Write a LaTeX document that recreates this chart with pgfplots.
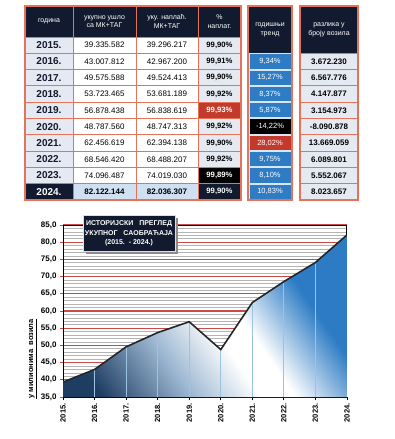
\documentclass[border=0pt]{standalone}
\usepackage{pgfplots}
\pgfplotsset{compat=1.18}
\usepackage{fontspec}
\setmainfont{Liberation Sans}
\definecolor{hdr}{HTML}{111A2E}
\definecolor{bord}{HTML}{E4735A}
\definecolor{lightcell}{HTML}{E5E9F2}
\definecolor{bluecell}{HTML}{2E7CC4}
\definecolor{redcell}{HTML}{C33A2C}
\definecolor{lastrow}{HTML}{CFE0F3}
\definecolor{trendbg}{HTML}{D8E6F4}
\definecolor{gridred}{HTML}{C84A4A}
\definecolor{gridgray}{HTML}{B4B4B4}
\definecolor{areadark}{HTML}{1E3D63}
\definecolor{areamid}{HTML}{9DB8D2}
\definecolor{areablue}{HTML}{2C7BC4}
\definecolor{combcol}{HTML}{9CC3E0}
\pgfdeclarehorizontalshading{areashade}{100bp}{color(0bp)=(areadark); color(22bp)=(areadark); color(38bp)=(areamid); color(50bp)=(white); color(56bp)=(white); color(70bp)=(areablue); color(100bp)=(areablue)}
\newcommand\hfont{\fontsize{7}{8.5}\selectfont}
\newcommand\yfont{\bfseries\fontsize{10}{10}\selectfont}
\newcommand\vfont{\fontsize{8}{8}\selectfont}
\newcommand\pfont{\bfseries\fontsize{7.7}{8}\selectfont}
\newcommand\tfont{\fontsize{7.5}{8}\selectfont}
\newcommand\rfont{\bfseries\fontsize{8}{8}\selectfont}
% #1 top #2 bottom #3 year #4 a #5 b #6 pct #7 pct fill #8 pct text colour
\newcommand\trow[8]{%
  \fill[lightcell] (25,#1) rectangle (73,#2);
  \fill[white] (73,#1) rectangle (198,#2);
  \fill[#7] (198,#1) rectangle (241,#2);
  \node[font=\yfont, text=hdr] at (49,{(#1+#2)/2}) {#3};
  \node[font=\vfont] at (104.5,{(#1+#2)/2}) {#4};
  \node[font=\vfont] at (167,{(#1+#2)/2}) {#5};
  \node[font=\pfont, text=#8] at (219.5,{(#1+#2)/2}) {#6};
}
% #1 top #2 bottom #3 text #4 fill
\newcommand\trend[4]{%
  \fill[#4] (249.5,{#1+1}) rectangle (290.5,{#2-1});
  \node[font=\tfont, text=white] at (270,{(#1+#2)/2}) {#3};
}
\newcommand\raz[3]{%
  \fill[lightcell] (300,#1) rectangle (358,#2);
  \node[font=\rfont] at (329,{(#1+#2)/2}) {#3};
}
\begin{document}
\begin{tikzpicture}
\useasboundingbox (0,0) rectangle (394pt,439pt);
\begin{axis}[
  at={(63pt,42pt)}, anchor=south west, scale only axis,
  width=284pt, height=172pt,
  xmin=2015, xmax=2024, ymin=35, ymax=85,
  xtick={2015,...,2024},
  xticklabels={2015.,2016.,2017.,2018.,2019.,2020.,2021.,2022.,2023.,2024.},
  ytick={35,40,...,85}, minor y tick num=4,
  ymajorgrids, yminorgrids,
  major grid style={draw=gridred, line width=1.1pt},
  minor grid style={draw=gridgray, line width=0.7pt},
  tick align=outside, major tick length=3pt, minor tick length=0pt,
  xtick pos=bottom, ytick pos=left,
  x tick style={black, line width=0.8pt},
  y tick style={gridred, line width=1pt},
  axis line style={black, line width=1pt},
  yticklabel style={font=\bfseries\fontsize{8}{8}\selectfont,
    /pgf/number format/.cd, fixed, fixed zerofill, precision=1, use comma, assume math mode=true},
  xticklabel style={font=\bfseries\fontsize{7.5}{8}\selectfont, rotate=90, anchor=east},
]
\addplot[draw=none, shading=areashade, shading angle=35]
 coordinates {(2015,35) (2015,39.336) (2016,43.008) (2017,49.576) (2018,53.723) (2019,56.878)
  (2020,48.788) (2021,62.457) (2022,68.546) (2023,74.096) (2024,82.122) (2024,35)};
\addplot[ycomb, draw=combcol, line width=0.8pt, mark=none]
 coordinates {(2016,43.008) (2017,49.576) (2018,53.723) (2019,56.878)
  (2020,48.788) (2021,62.457) (2022,68.546) (2023,74.096)};
\addplot[black!85, line width=1.6pt, mark=none]
 coordinates {(2015,39.336) (2016,43.008) (2017,49.576) (2018,53.723) (2019,56.878)
  (2020,48.788) (2021,62.457) (2022,68.546) (2023,74.096) (2024,82.122)};
\end{axis}
\begin{scope}[x=1pt, y=-1pt, shift={(0pt,439pt)}]
% ---- header block 1
\fill[hdr] (25,6) rectangle (241,37);
\node[font=\hfont, text=white] at (49,21.5) {година};
\node[font=\hfont, text=white, align=center] at (104.5,21.5) {укупно ушло\\са МК+ТАГ};
\node[font=\hfont, text=white, align=center] at (167,21.5) {уку. наплаћ.\\МК+ТАГ};
\node[font=\hfont, text=white, align=center] at (219.5,21.5) {\%\\наплат.};
\trow{37}{53.3}{2015.}{39.335.582}{39.296.217}{99,90\%}{lightcell}{black}
\trow{53.3}{69.6}{2016.}{43.007.812}{42.967.200}{99,91\%}{lightcell}{black}
\trow{69.6}{85.9}{2017.}{49.575.588}{49.524.413}{99,90\%}{lightcell}{black}
\trow{85.9}{102.2}{2018.}{53.723.465}{53.681.189}{99,92\%}{lightcell}{black}
\trow{102.2}{118.5}{2019.}{56.878.438}{56.838.619}{99,93\%}{redcell}{white}
\trow{118.5}{134.8}{2020.}{48.787.560}{48.747.313}{99,92\%}{lightcell}{black}
\trow{134.8}{151.1}{2021.}{62.456.619}{62.394.138}{99,90\%}{lightcell}{black}
\trow{151.1}{167.4}{2022.}{68.546.420}{68.488.207}{99,92\%}{lightcell}{black}
\trow{167.4}{183.7}{2023.}{74.096.487}{74.019.030}{99,89\%}{black}{white}
% 2024 row
\fill[hdr] (25,183.7) rectangle (73,200);
\fill[lastrow] (73,183.7) rectangle (198,200);
\fill[hdr] (198,183.7) rectangle (241,200);
\node[font=\yfont, text=white] at (49,191.85) {2024.};
\node[font=\bfseries\fontsize{8}{8}\selectfont] at (104.5,191.85) {82.122.144};
\node[font=\bfseries\fontsize{8}{8}\selectfont] at (167,191.85) {82.036.307};
\node[font=\pfont, text=white] at (219.5,191.85) {99,90\%};
% borders block 1
\foreach \yy in {37,53.3,69.6,85.9,102.2,118.5,134.8,151.1,167.4,183.7}
  \draw[bord, line width=0.9pt] (25,\yy) -- (241,\yy);
\foreach \xx in {73,136,198}
  \draw[bord, line width=0.9pt] (\xx,6) -- (\xx,200);
\draw[bord, line width=1.3pt] (25,6) rectangle (241,200);
% ---- trend block
\fill[trendbg] (248,6) rectangle (292,200);
\fill[hdr] (248,6) rectangle (292,53.3);
\node[font=\hfont, text=white, align=center] at (270,29.6) {годишњи\\тренд};
\trend{53.3}{69.6}{9,34\%}{bluecell}
\trend{69.6}{85.9}{15,27\%}{bluecell}
\trend{85.9}{102.2}{8,37\%}{bluecell}
\trend{102.2}{118.5}{5,87\%}{bluecell}
\trend{118.5}{134.8}{-14,22\%}{black}
\trend{134.8}{151.1}{28,02\%}{redcell}
\trend{151.1}{167.4}{9,75\%}{bluecell}
\trend{167.4}{183.7}{8,10\%}{bluecell}
\trend{183.7}{200}{10,83\%}{bluecell}
\draw[bord, line width=1.3pt] (248,6) rectangle (292,200);
% ---- razlika block
\fill[hdr] (300,6) rectangle (358,53.3);
\node[font=\hfont, text=white, align=center] at (329,29.6) {разлика у\\броју возила};
\raz{53.3}{69.6}{3.672.230}
\raz{69.6}{85.9}{6.567.776}
\raz{85.9}{102.2}{4.147.877}
\raz{102.2}{118.5}{3.154.973}
\raz{118.5}{134.8}{-8.090.878}
\raz{134.8}{151.1}{13.669.059}
\raz{151.1}{167.4}{6.089.801}
\raz{167.4}{183.7}{5.552.067}
\raz{183.7}{200}{8.023.657}
\foreach \yy in {53.3,69.6,85.9,102.2,118.5,134.8,151.1,167.4,183.7}
  \draw[bord, line width=0.9pt] (300,\yy) -- (358,\yy);
\draw[bord, line width=1.3pt] (300,6) rectangle (358,200);
% ---- chart title box
\fill[black!45] (86,218) rectangle (178,254);
\fill[hdr] (83,215) rectangle (175,251);
\draw[white!75!gray, line width=0.6pt] (83,215) rectangle (175,251);
\node[font=\bfseries\fontsize{7}{7}\selectfont, text=white] at (129,223.5) {ИСТОРИЈСКИ\ \ \ ПРЕГЛЕД};
\node[font=\bfseries\fontsize{7}{7}\selectfont, text=white] at (129,233) {УКУПНОГ\ \ \ САОБРАЋАЈА};
\node[font=\bfseries\fontsize{7}{7}\selectfont, text=white] at (129,242.5) {(2015.\ \ - 2024.)};
% ---- y label
\node[font=\bfseries\fontsize{7.5}{8}\selectfont, rotate=90] at (33,359) {\underline{у милионима\ \ возила}};
\end{scope}
\end{tikzpicture}
\end{document}
